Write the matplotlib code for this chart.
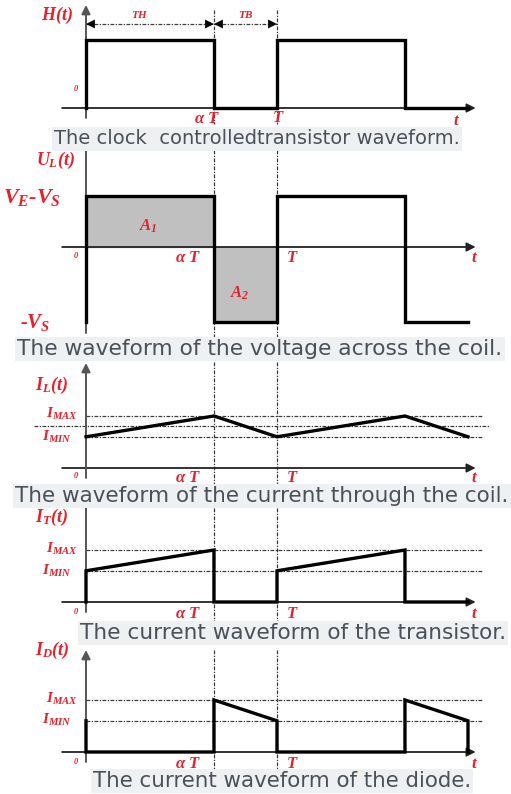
import matplotlib
matplotlib.use('Agg')
import matplotlib.pyplot as plt

plt.rcParams['mathtext.fontset'] = 'custom'
plt.rcParams['mathtext.it'] = 'Liberation Serif:bold:italic'
plt.rcParams['mathtext.rm'] = 'Liberation Serif:bold:italic'
plt.rcParams['mathtext.bf'] = 'Liberation Serif:bold:italic'

# switching instants, in units of the period T
alpha = 0.67
t_edges = [0, alpha, 1.0, 1 + alpha, 2.0]

# H(t): clock signal
h_t = [0, 0, alpha, alpha, 1.0, 1.0, 1 + alpha, 1 + alpha, 2.0]
h_v = [0, 1, 1, 0, 0, 1, 1, 0, 0]

# U_L(t): coil voltage (VE-VS = 1, -VS = -1.47)
ul_high = 1.0
ul_low = -1.47
ul_t = [0, 0, alpha, alpha, 1.0, 1.0, 1 + alpha, 1 + alpha, 2.0]
ul_v = [ul_low, ul_high, ul_high, ul_low, ul_low, ul_high, ul_high, ul_low, ul_low]

# current levels
i_min = 0.6
i_max = 1.0
i_avg = 0.8

il_t = [0, alpha, 1.0, 1 + alpha, 2.0]
il_v = [i_min, i_max, i_min, i_max, i_min]

it_t = [0, 0, alpha, alpha, 1.0, 1.0, 1 + alpha, 1 + alpha, 2.0]
it_v = [0, i_min, i_max, 0, 0, i_min, i_max, 0, 0]

id_t = [0, 0, alpha, alpha, 1.0, 1.0, 1 + alpha, 1 + alpha, 2.0, 2.0]
id_v = [i_min, 0, 0, i_max, i_min, 0, 0, i_max, i_min, 0]

captions = [
    'The clock  controlledtransistor waveform.',
    'The waveform of the voltage across the coil.',
    'The waveform of the current through the coil.',
    'The current waveform of the transistor.',
    'The current waveform of the diode.',
]

W, H = 511, 794
X0_PX, PER_PX = 86, 191
RED = '#e8202a'
WAVE = dict(color='black', lw=2.4, solid_joinstyle='miter', clip_on=False, zorder=4)
REF = dict(color='#3a3a3a', lw=0.9, ls=(0, (3, 1.2, 1, 1.2)), clip_on=False, zorder=2)

fig = plt.figure(figsize=(W / 100, H / 100), dpi=100)


def panel(top, bot, zero, unit):
    ax = fig.add_axes([0, 1 - bot / H, 1, (bot - top) / H])
    ax.set_xlim(-X0_PX / PER_PX, (W - X0_PX) / PER_PX)
    ax.set_ylim((zero - bot) / unit, (zero - top) / unit)
    ax.axis('off')
    ax.py = lambda px: (zero - px) / unit
    return ax


def axes_arrows(ax, y_bot_px, y_top_px, arrow_up=True):
    ax.annotate('', xy=(2.04, 0), xytext=(-0.125, 0), annotation_clip=False,
                arrowprops=dict(arrowstyle='-|>', color='#222', lw=1.3,
                                mutation_scale=13, shrinkA=0, shrinkB=0), zorder=3)
    style = '-|>' if arrow_up else '-'
    ax.annotate('', xy=(0, ax.py(y_top_px)), xytext=(0, ax.py(y_bot_px)),
                annotation_clip=False,
                arrowprops=dict(arrowstyle=style, color='#555', lw=1.4,
                                mutation_scale=13, shrinkA=0, shrinkB=0), zorder=3)


def markers(ax, top_px, bot_px):
    for t in (alpha, 1.0):
        ax.plot([t, t], [ax.py(top_px), ax.py(bot_px)], **REF)


def lab(x, y, s, size, ha='center'):
    fig.text(x / W, 1 - y / H, s, color=RED, fontsize=size, ha=ha, va='center',
             family='Liberation Serif', weight='bold', style='italic')


def caption(x, y, s, size):
    fig.text(x / W, 1 - y / H, s, color='#4b5159', fontsize=size, ha='center',
             va='center', family='DejaVu Sans', zorder=10,
             bbox=dict(facecolor='#eef0f2', edgecolor='none', pad=1.5))


def time_labels(y, a_x=188, t_x=292):
    lab(76, y - 2, '0', 6)
    lab(a_x, y, r'$\alpha\ T$', 12)
    lab(t_x, y, '$T$', 12)
    lab(475, y, '$t$', 12)


# clock waveform
ax1 = panel(0, 128, 108, 68)
axes_arrows(ax1, 118, 5)
markers(ax1, 10, 124)
ax1.plot(h_t, h_v, **WAVE)
y_arr = ax1.py(24)
for a, b in zip(t_edges[:2], t_edges[1:3]):
    ax1.plot([a, b], [y_arr, y_arr], **REF)
    ax1.annotate('', xy=(b, y_arr), xytext=(a, y_arr), annotation_clip=False,
                 arrowprops=dict(arrowstyle='<|-|>', color='black', lw=0,
                                 mutation_scale=16, shrinkA=0, shrinkB=0))
lab(57, 15, '$H(t)$', 13)
lab(140, 14, '$TH$', 8)
lab(246, 14, '$TB$', 8)
lab(76, 89, '0', 6)
lab(207, 119, r'$\alpha\ T$', 12)
lab(278, 118, '$T$', 12)
lab(457, 121, '$t$', 12)

# coil voltage
ax2 = panel(146, 342, 247, 51)
axes_arrows(ax2, 333, 150, arrow_up=False)
markers(ax2, 150, 342)
ax2.fill_between([0, alpha], 0, ul_high, color='#c0c0c0', zorder=1)
ax2.fill_between([alpha, 1.0], ul_low, 0, color='#c0c0c0', zorder=1)
ax2.plot(ul_t, ul_v, **WAVE)
lab(55, 160, '$U_L(t)$', 13)
lab(32, 198, '$V_E$-$V_S$', 16)
lab(35, 322, '-$V_S$', 15)
lab(148, 226, '$A_1$', 12)
lab(240, 293, '$A_2$', 12)
time_labels(258)

# coil current
ax3 = panel(358, 488, 468, 52)
axes_arrows(ax3, 478, 363)
markers(ax3, 362, 488)
for lvl in (i_max, i_min):
    ax3.plot([0, 2.08], [lvl, lvl], **REF)
ax3.plot([-0.27, 2.115], [i_avg, i_avg], **REF)
ax3.plot(il_t, il_v, **WAVE)
lab(52, 385, '$I_L(t)$', 13)
lab(62, 414, '$I_{MAX}$', 11)
lab(57, 437, '$I_{MIN}$', 11)
time_labels(478)

# transistor current
ax4 = panel(505, 624, 602, 52)
axes_arrows(ax4, 612, 508, arrow_up=False)
markers(ax4, 508, 624)
for lvl in (i_max, i_min):
    ax4.plot([0, 2.08], [lvl, lvl], **REF)
ax4.plot(it_t, it_v, **WAVE)
lab(52, 517, '$I_T(t)$', 13)
lab(62, 549, '$I_{MAX}$', 11)
lab(57, 571, '$I_{MIN}$', 11)
time_labels(614)

# diode current
ax5 = panel(642, 772, 752, 52)
axes_arrows(ax5, 762, 650)
markers(ax5, 650, 770)
for lvl in (i_max, i_min):
    ax5.plot([0, 2.08], [lvl, lvl], **REF)
ax5.plot(id_t, id_v, **WAVE)
lab(52, 650, '$I_D(t)$', 13)
lab(62, 699, '$I_{MAX}$', 11)
lab(57, 720, '$I_{MIN}$', 11)
time_labels(764)

caption(257, 139, captions[0], 14)
caption(260, 349, captions[1], 15.7)
caption(262, 496, captions[2], 15.5)
caption(293, 633, captions[3], 15.6)
caption(282, 781, captions[4], 15.4)

fig.savefig('out.png', dpi=100)
